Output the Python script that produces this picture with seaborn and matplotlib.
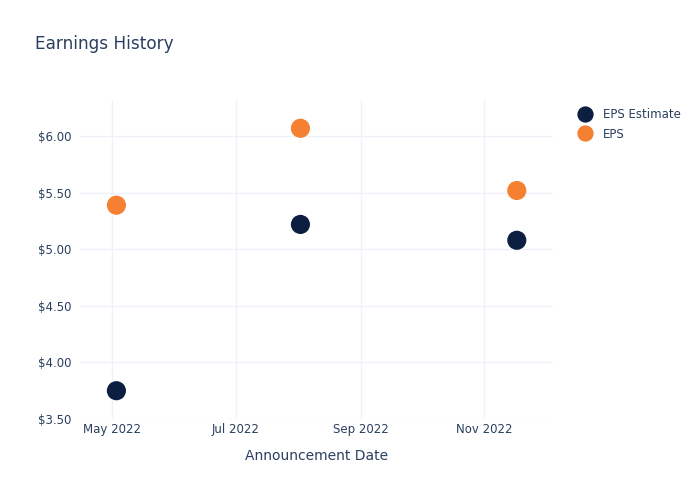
import matplotlib
matplotlib.use("Agg")
import matplotlib.pyplot as plt
import matplotlib.dates as mdates
import matplotlib.ticker as mticker
import seaborn as sns
import pandas as pd

dates = ["2022-05-03", "2022-08-02", "2022-11-17"]
eps_estimate = [3.75, 5.22, 5.08]
eps_actual = [5.39, 6.07, 5.52]
series_names = ["EPS Estimate", "EPS"]
colors = ["#0c1f40", "#f58031"]

df = pd.DataFrame({
    "date": pd.to_datetime(dates * 2),
    "value": eps_estimate + eps_actual,
    "series": [series_names[0]] * 3 + [series_names[1]] * 3,
})

sns.set_style("white")
plt.rcParams["font.family"] = ["DejaVu Sans"]
text_color = "#2a3f5f"

fig = plt.figure(figsize=(7, 5), dpi=100)
ax = fig.add_axes([0.1143, 0.162, 0.676, 0.638])

sns.scatterplot(data=df, x="date", y="value", hue="series", palette=colors,
                hue_order=series_names, s=190, edgecolor="none", ax=ax,
                zorder=3, legend=True)

ax.set_xlim(pd.Timestamp("2022-04-15"), pd.Timestamp("2022-12-05"))
ax.set_ylim(3.5, 6.32)
ax.xaxis.set_major_locator(mdates.MonthLocator(bymonth=[5, 7, 9, 11]))
ax.xaxis.set_major_formatter(mdates.DateFormatter("%b %Y"))
ax.yaxis.set_major_locator(mticker.MultipleLocator(0.5))
ax.yaxis.set_major_formatter(mticker.FuncFormatter(lambda v, p: f"${v:.2f}"))

ax.grid(True, color="#eef1f8", linewidth=1)
ax.set_axisbelow(True)
for sp in ax.spines.values():
    sp.set_visible(False)
ax.tick_params(axis="y", length=0, labelsize=8.5, colors=text_color, pad=6)
ax.tick_params(axis="x", length=0, labelsize=8.5, colors=text_color, pad=3)
ax.set_xlabel("Announcement Date", fontsize=10, color=text_color, labelpad=9)
ax.set_ylabel("")

fig.text(0.05, 0.912, "Earnings History", fontsize=12.2, color=text_color, va="center")

leg = ax.legend(loc="upper left", bbox_to_anchor=(1.02, 1.008), frameon=False,
                fontsize=8.5, handletextpad=0.5, labelspacing=0.55,
                markerscale=0.85)
for t in leg.get_texts():
    t.set_color(text_color)

fig.savefig("out.png", dpi=100)
